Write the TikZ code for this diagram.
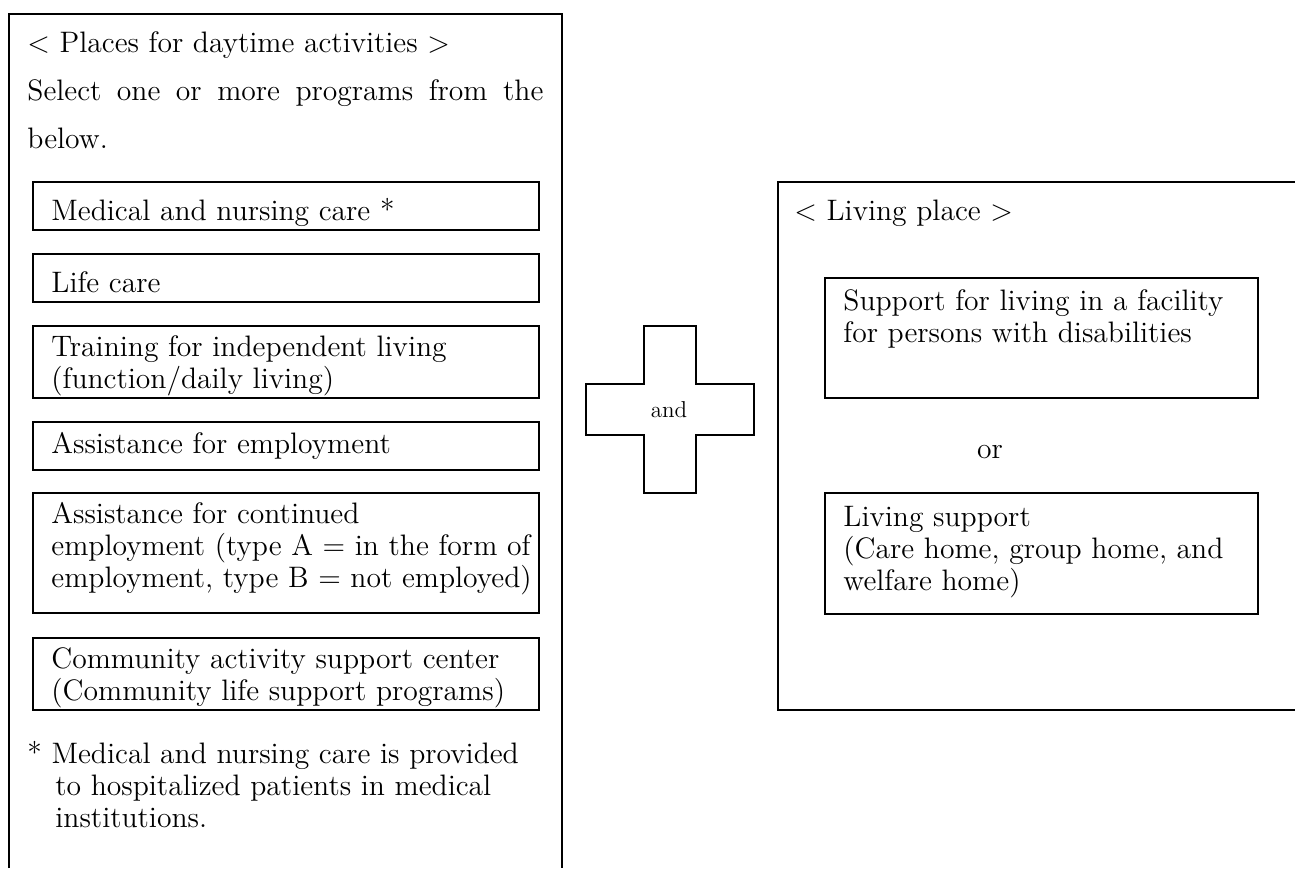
\documentclass[tikz,border=0pt]{standalone}
\usepackage{fontspec}
\begin{document}
\begin{tikzpicture}[x=0.5pt,y=-0.5pt,
  frame/.style={draw, line width=1pt},
  itembox/.style={draw, line width=1pt, rectangle, inner sep=0pt, outer sep=0pt, anchor=north west},
  txt/.style={anchor=base west, inner sep=0pt, align=left, font=\fontsize{14.8}{16}\selectfont},
  ctxt/.style={anchor=base, inner sep=0pt, font=\fontsize{14.8}{16}\selectfont},
  crossshape/.style={draw, line width=0.8pt},
]
\useasboundingbox (0,0) rectangle (1295,868);

% left frame (open at bottom)
\draw[frame] (9,868) -- (9,14) -- (562,14) -- (562,868);
\node[txt] (ltitle) at (27,52) {< Places for daytime activities >};
\node[txt] (lsel1) at (27,100) {\makebox[258pt][s]{Select one or more programs from the}};
\node[txt] (lsel2) at (27,148) {below.};

% (multi-line nodes: base anchor = baseline of last line)
\node[itembox, minimum width=253pt, minimum height=24pt] (bmed) at (33,182) {};
\node[txt] (tmed) at (51,220) {Medical and nursing care *};

\node[itembox, minimum width=253pt, minimum height=24pt] (blife) at (33,254) {};
\node[txt] (tlife) at (51,292) {Life care};

\node[itembox, minimum width=253pt, minimum height=36pt] (btrain) at (33,326) {};
\node[txt] (ttrain) at (51,388) {Training for independent living\\(function/daily living)};

\node[itembox, minimum width=253pt, minimum height=24pt] (bemp) at (33,422) {};
\node[txt] (temp) at (51,453) {Assistance for employment};

\node[itembox, minimum width=253pt, minimum height=60pt] (bcont) at (33,493) {};
\node[txt] (tcont) at (51,587) {Assistance for continued\\employment (type A = in the form of\\employment, type B = not employed)};

\node[itembox, minimum width=253pt, minimum height=36pt] (bcomm) at (33,638) {};
\node[txt] (tcomm) at (51,700) {Community activity support center\\(Community life support programs)};

\node[txt] (tnote) at (27,827) {* Medical and nursing care is provided\\\hspace*{14pt}to hospitalized patients in medical\\\hspace*{14pt}institutions.};

% cross
\draw[crossshape] (644,326) -- (696,326) -- (696,384) -- (754,384) -- (754,435) -- (696,435)
  -- (696,493) -- (644,493) -- (644,435) -- (586,435) -- (586,384) -- (644,384) -- cycle;
\node[anchor=base, inner sep=0pt, font=\fontsize{11.5}{13}\selectfont] (tand) at (669,417) {and};

% right frame (open at right)
\draw[frame] (1295,182) -- (778,182) -- (778,710) -- (1295,710);
\node[txt] (rtitle) at (794,220) {< Living place >};

\node[itembox, minimum width=216.5pt, minimum height=60pt] (bfac) at (825,278) {};
\node[txt] (tfac) at (843,342) {Support for living in a facility\\for persons with disabilities};

\node[ctxt] (tor) at (990,458) {or};

\node[itembox, minimum width=216.5pt, minimum height=60.5pt] (bliv) at (825,493) {};
\node[txt] (tliv) at (843,590) {Living support\\(Care home, group home, and\\welfare home)};
\end{tikzpicture}
\end{document}
